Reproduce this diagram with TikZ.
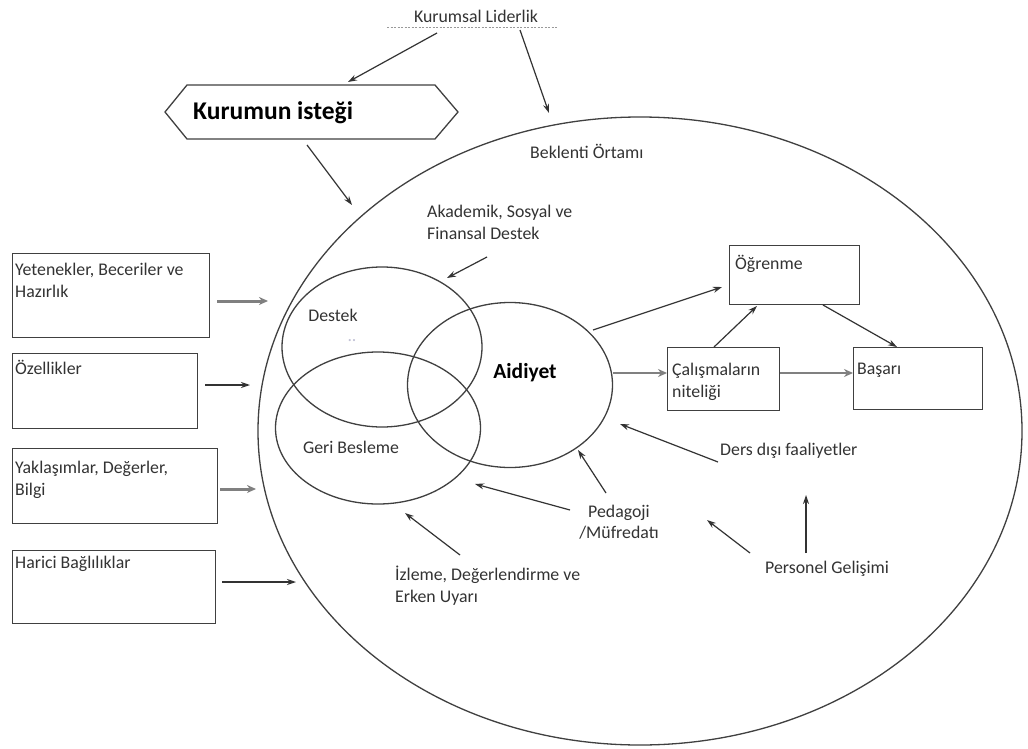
\documentclass[tikz,border=0pt]{standalone}
\usepackage{fontspec}
\setmainfont{Carlito}
\usetikzlibrary{shapes.geometric,arrows.meta}
\begin{document}
\begin{tikzpicture}[x=1pt,y=-1pt,
  ink/.style={draw=black!75,line width=1.3pt},
  lbl/.style={font=\fontsize{17.8}{21.5}\selectfont,text=black!80,inner sep=0pt},
  boxlbl/.style={lbl,align=left,anchor=north west},
  frame/.style={ink,rectangle,inner sep=0pt},
  ring/.style={ink,ellipse,inner sep=0pt},
  arr/.style={draw=black!80,line width=1.2pt,-{Stealth[length=9pt,width=6pt]}},
  fatarr/.style={draw=black!50,line width=3pt,-{Stealth[length=9pt,width=8pt]}}
]
\useasboundingbox (0,0) rectangle (1028,749);
\fill[white] (0,0) rectangle (1028,749);

% --- environment and overlapping circles
\node[ring,minimum width=764pt,minimum height=628pt] (env) at (640,431) {};
\node[ring,minimum width=200pt,minimum height=160pt] (dest) at (382,347) {};
\node[ring,minimum width=205pt,minimum height=152pt] (geri) at (378,428) {};
\node[ring,minimum width=205pt,minimum height=165pt] (aid) at (510,385) {};

% --- top: leadership and wish of the institution
\node[lbl] (lider) at (476,16) {Kurumsal Liderlik};
\draw[black!40,line width=1pt,dash pattern=on 2pt off 1.5pt] (387,28) -- (558,28);
\draw[ink,fill=white] (165,112) -- (187,85) -- (435,85) -- (458,112) -- (435,139) -- (187,139) -- cycle;
\node[lbl,anchor=west,font=\fontsize{25.5}{28}\selectfont\bfseries,text=black] (istek) at (193,113) {Kurumun isteği};
\node[lbl,anchor=west] (bekl) at (530,151) {Beklenti Örtamı};

\coordinate (l1s) at (437,33);  \coordinate (l1e) at (348,82);
\coordinate (l2s) at (520,30);  \coordinate (l2e) at (549,113);
\coordinate (k1s) at (307,145); \coordinate (k1e) at (352,205);
\draw[arr] (l1s) -- (l1e);
\draw[arr] (l2s) -- (l2e);
\draw[arr] (k1s) -- (k1e);

% --- support label
\node[boxlbl] (akad) at (427,205) {Akademik, Sosyal ve\\Finansal Destek};
\coordinate (a1s) at (487,257); \coordinate (a1e) at (447,278);
\draw[arr] (a1s) -- (a1e);

% --- circle labels
\node[lbl] (destek) at (333,315) {Destek};
\node[lbl,text=blue!20!gray!40] (dots) at (352,341) {..};
\node[lbl,font=\fontsize{21.5}{24}\selectfont\bfseries,text=black] (aidl) at (525,373) {Aidiyet};
\node[lbl] (gerib) at (351,447) {Geri Besleme};

% --- input boxes on the left
\node[frame,minimum width=197pt,minimum height=84pt,anchor=north west] (b1) at (12,253) {};
\node[frame,minimum width=185pt,minimum height=75pt,anchor=north west] (b2) at (12,353) {};
\node[frame,minimum width=205pt,minimum height=75pt,anchor=north west] (b3) at (12,448) {};
\node[frame,minimum width=203pt,minimum height=73pt,anchor=north west] (b4) at (12,550) {};
\node[boxlbl] (t1) at (15,263) {Yetenekler, Beceriler ve\\Hazırlık};
\node[boxlbl] (t2) at (15,360) {Özellikler};
\node[boxlbl] (t3) at (15,461) {Yaklaşımlar, Değerler,\\Bilgi};
\node[boxlbl] (t4) at (15,556) {Harici Bağlılıklar};

\coordinate (i1s) at (217,301); \coordinate (i1e) at (268,301);
\coordinate (i2s) at (205,385); \coordinate (i2e) at (250,385);
\coordinate (i3s) at (220,489); \coordinate (i3e) at (256,489);
\coordinate (i4s) at (222,582); \coordinate (i4e) at (296,582);
\draw[fatarr] (i1s) -- (i1e);
\draw[arr] (i2s) -- (i2e);
\draw[fatarr] (i3s) -- (i3e);
\draw[arr] (i4s) -- (i4e);

% --- outcome boxes on the right
\node[frame,minimum width=130pt,minimum height=59pt,anchor=north west] (ogr) at (729,245) {};
\node[frame,minimum width=112pt,minimum height=63pt,anchor=north west] (cal) at (667,347) {};
\node[frame,minimum width=129pt,minimum height=62pt,anchor=north west] (bas) at (853,347) {};
\node[boxlbl] (ogrt) at (735,255) {Öğrenme};
\node[boxlbl] (calt) at (672,363) {Çalışmaların\\niteliği};
\node[boxlbl] (bast) at (857,363) {Başarı};

\coordinate (o1s) at (593,330); \coordinate (o1e) at (722,287);
\draw[arr] (o1s) -- (o1e);
\draw[fatarr,line width=2pt] (613,373) -- (cal.west |- 0,373);
\draw[arr] (714,347) -- (757,306);
\draw[arr] (823,305) -- (897,347);
\draw[fatarr,line width=2pt] (cal.east |- 0,373) -- (bas.west |- 0,373);

% --- contributing factors at the bottom
\node[lbl,anchor=west] (ders) at (720,451) {Ders dışı faaliyetler};
\node[lbl,align=center] (ped) at (619,522) {Pedagoji\\/Müfredatı};
\node[boxlbl] (izl) at (395,566) {İzleme, Değerlendirme ve\\Erken Uyarı};
\node[lbl,anchor=west] (pers) at (765,569) {Personel Gelişimi};

\coordinate (d1s) at (718,462); \coordinate (d1e) at (620,424);
\coordinate (p1s) at (606,493); \coordinate (p1e) at (578,450);
\coordinate (p2s) at (570,510); \coordinate (p2e) at (475,484);
\coordinate (z1s) at (460,555); \coordinate (z1e) at (405,513);
\coordinate (g1s) at (750,553); \coordinate (g1e) at (707,520);
\coordinate (g2s) at (806,553); \coordinate (g2e) at (806,495);
\draw[arr] (d1s) -- (d1e);
\draw[arr] (p1s) -- (p1e);
\draw[arr] (p2s) -- (p2e);
\draw[arr] (z1s) -- (z1e);
\draw[arr] (g1s) -- (g1e);
\draw[arr] (g2s) -- (g2e);
\end{tikzpicture}
\end{document}
